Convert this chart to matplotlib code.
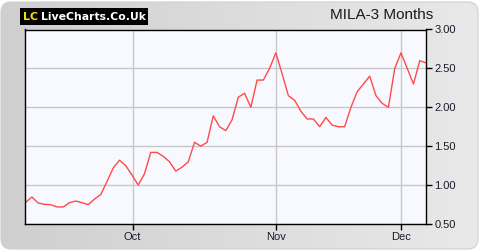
import numpy as np
import matplotlib
matplotlib.use("Agg")
import matplotlib.pyplot as plt
from matplotlib.patches import FancyBboxPatch
from matplotlib.colors import LinearSegmentedColormap

prices = [0.778, 0.847, 0.77, 0.753, 0.748, 0.72, 0.718, 0.774, 0.795, 0.774,
          0.748, 0.82, 0.877, 1.044, 1.22, 1.32, 1.25, 1.13, 1.00, 1.146,
          1.42, 1.42, 1.37, 1.30, 1.18, 1.23, 1.30, 1.55, 1.50, 1.55,
          1.89, 1.75, 1.70, 1.84, 2.13, 2.18, 2.00, 2.35, 2.35, 2.50,
          2.70, 2.43, 2.15, 2.09, 1.95, 1.85, 1.85, 1.75, 1.87, 1.77,
          1.75, 1.75, 2.00, 2.20, 2.30, 2.40, 2.15, 2.05, 2.00, 2.50,
          2.70, 2.50, 2.30, 2.60, 2.57]
month_labels = ["Oct", "Nov", "Dec"]
month_pos = [17.1, 40.0, 60.05]
y_ticks = [0.5, 1.0, 1.5, 2.0, 2.5, 3.0]

fig = plt.figure(figsize=(4.8, 2.5), dpi=100)
fig.patch.set_facecolor("white")

# background gradient with rounded border
bg = fig.add_axes([0, 0, 1, 1], zorder=-10)
bg.set_xlim(0, 480); bg.set_ylim(0, 250); bg.axis("off")
grad = np.linspace(0, 1, 256).reshape(1, -1)
cmap = LinearSegmentedColormap.from_list("g", ["#cfcfcf", "#e9e9e9"])
im = bg.imshow(grad, extent=[0, 480, 0, 250], aspect="auto", cmap=cmap)
clip = FancyBboxPatch((1, 1), 477, 247, boxstyle="round,pad=0,rounding_size=10",
                      transform=bg.transData, facecolor="none", edgecolor="#d0d0d0", lw=0.8)
bg.add_patch(clip)
im.set_clip_path(clip)

# logo
bg.add_patch(plt.Rectangle((20, 225), 128, 17, facecolor="black", edgecolor="none"))
bg.text(23.5, 233.5, "LC", color="#f0e000", fontsize=8, fontweight="bold",
        va="center", ha="left", family="DejaVu Sans")
bg.text(40.5, 233.5, "LiveCharts.Co.Uk", color="white", fontsize=7.8, fontweight="bold",
        va="center", ha="left", family="DejaVu Sans")
bg.text(433, 235, "MILA-3 Months", color="#1a1a1a", fontsize=11, ha="right",
        va="center", family="Liberation Sans")

ax = fig.add_axes([25 / 480, 26 / 250, 401 / 480, 194.5 / 250])
ax.set_facecolor("#f8f9ff")
x = np.arange(len(prices))
ax.plot(x, prices, color="#ff4a4a", lw=1.0)
ax.set_xlim(-0.1, len(prices) - 1)
ax.set_ylim(0.5, 3.0)
ax.set_yticks(y_ticks)
ax.set_yticklabels([f"{v:.2f}" for v in y_ticks])
ax.yaxis.tick_right()
ax.set_xticks(month_pos)
ax.set_xticklabels(month_labels)
ax.grid(True, color="#c8c8c8", lw=1.0)
ax.set_axisbelow(True)
for s in ax.spines.values():
    s.set_color("black"); s.set_linewidth(1.0)
ax.tick_params(axis="both", direction="out", length=4, width=1, color="black",
               labelsize=8, labelcolor="#1a1a2a", pad=2)
for lbl in ax.get_xticklabels() + ax.get_yticklabels():
    lbl.set_family("Liberation Sans")

fig.savefig("out.png", dpi=100)
